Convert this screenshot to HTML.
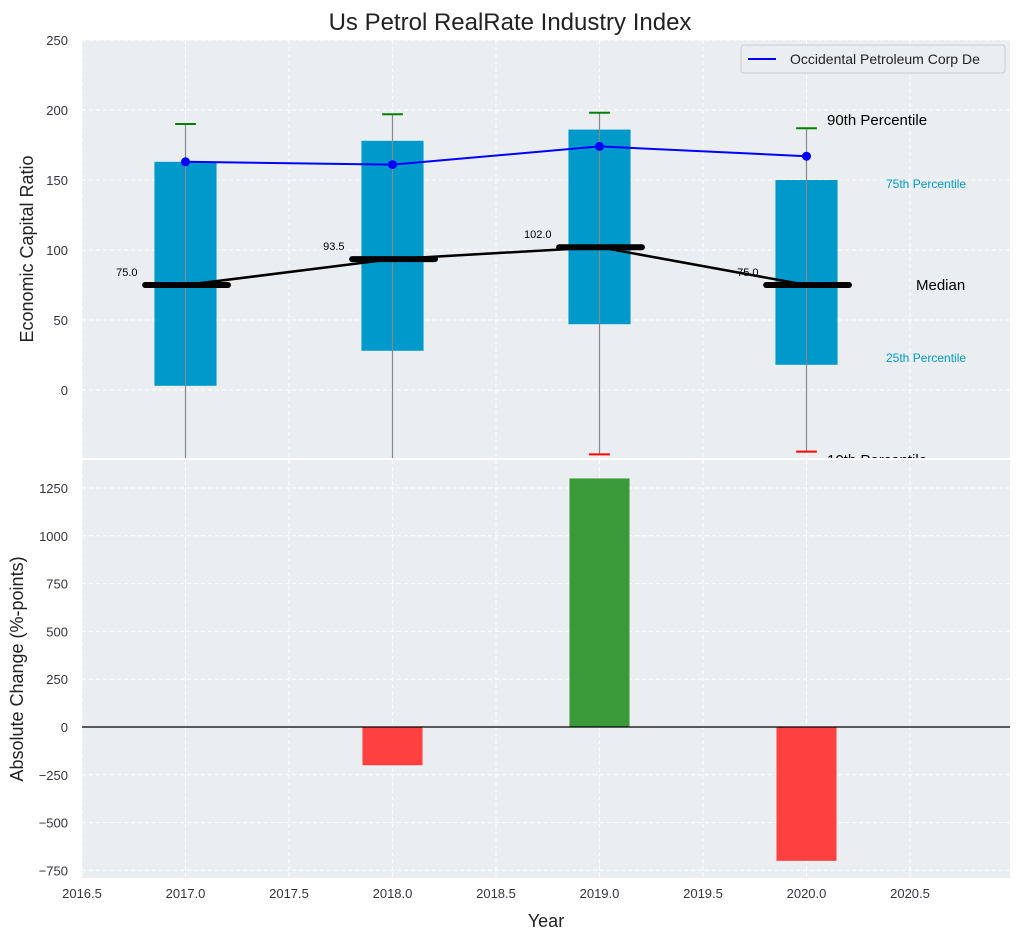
<!DOCTYPE html>
<html><head><meta charset="utf-8"><style>
body{margin:0;background:#fff;font-family:"Liberation Sans",sans-serif;}
svg text{font-family:"Liberation Sans",sans-serif;}
</style></head><body>
<svg id="c" width="1021" height="940" xmlns="http://www.w3.org/2000/svg"></svg>
<script>
const years=[2017,2018,2019,2020];
const p10=[-60,-60,-46,-44];
const p25=[3,28,47,18];
const medians=[75,93.5,102,75];
const p75=[163,178,186,150];
const p90=[190,197,198,187];
const company=[163,161,174,167];
const changes=[null,-200,1300,-700];
const topTicks=[0,50,100,150,200,250];
const botTicks=[-750,-500,-250,0,250,500,750,1000,1250];
const xTicks=[2016.5,2017,2017.5,2018,2018.5,2019,2019.5,2020,2020.5];

const NS="http://www.w3.org/2000/svg";
const svg=document.getElementById('c');
function el(t,a,p){const e=document.createElementNS(NS,t);for(const k in a)e.setAttribute(k,a[k]);(p||svg).appendChild(e);return e;}
const L=82,R=1010;
const X=v=>L+(v-2016.5)*207;
const T0=40,T1=458,B0=460,B1=878;
const YT=v=>390-v*1.4;
const YB=v=>727-v*0.1912;
const fmt=v=>String(v).replace('-','\u2212');

let t=el('text',{x:510,y:30,'text-anchor':'middle','font-size':24,fill:'#222'});t.textContent='Us Petrol RealRate Industry Index';


const bg=el('rect',{x:L,y:B0,width:R-L,height:B1-B0,fill:'#eaeef0'});

const gt=el('g',{});
el('rect',{x:L,y:T0,width:R-L,height:T1-T0,fill:'#eaeef0'},gt);
const clipT=el('clipPath',{id:'ct'});el('rect',{x:L,y:T0,width:R-L,height:T1-T0},clipT);
const clipB=el('clipPath',{id:'cb'});el('rect',{x:L,y:B0,width:R-L,height:B1-B0},clipB);
xTicks.forEach(v=>{el('line',{x1:X(v),x2:X(v),y1:T0,y2:T1,stroke:'#fff','stroke-dasharray':'4,3'},gt);el('line',{x1:X(v),x2:X(v),y1:B0,y2:B1,stroke:'#fff','stroke-dasharray':'4,3'});
 const tx=el('text',{x:X(v),y:898,'text-anchor':'middle','font-size':13,fill:'#334'});tx.textContent=v.toFixed(1);
 });
topTicks.forEach(v=>{el('line',{x1:L,x2:R,y1:YT(v),y2:YT(v),stroke:'#fff','stroke-dasharray':'4,3'},gt);
 const tx=el('text',{x:68,y:YT(v)+5,'text-anchor':'end','font-size':13,fill:'#334'});tx.textContent=fmt(v);
 });
const gc=el('g',{'clip-path':'url(#ct)'});
years.forEach((y,i)=>{
 const b=el('rect',{x:X(y-0.15),y:YT(p75[i]),width:0.3*207,height:YT(p25[i])-YT(p75[i]),fill:'#0099cc'},gc);
 
 el('line',{x1:X(y),x2:X(y),y1:YT(p90[i]),y2:YT(p10[i]),stroke:'#888','stroke-width':1.2},gc);
 el('line',{x1:X(y-0.05),x2:X(y+0.05),y1:YT(p90[i]),y2:YT(p90[i]),stroke:'green','stroke-width':2},gc);
 el('line',{x1:X(y-0.05),x2:X(y+0.05),y1:YT(p10[i]),y2:YT(p10[i]),stroke:'red','stroke-width':2},gc);
});
el('polyline',{points:years.map((y,i)=>X(y)+','+YT(medians[i])).join(' '),fill:'none',stroke:'#000','stroke-width':2.5},gc);
years.forEach((y,i)=>{const m=el('line',{x1:X(y-0.195),x2:X(y+0.205),y1:YT(medians[i]),y2:YT(medians[i]),stroke:'#000','stroke-width':6,'stroke-linecap':'round'},gc);
 
 const tx=el('text',{x:X(y)-48,y:YT(medians[i])-9,'text-anchor':'end','font-size':11,fill:'#000'});tx.textContent=medians[i].toFixed(1);
 });
el('polyline',{points:years.map((y,i)=>X(y)+','+YT(company[i])).join(' '),fill:'none',stroke:'blue','stroke-width':2},gc);
years.forEach((y,i)=>{const c=el('circle',{cx:X(y),cy:YT(company[i]),r:4.5,fill:'blue'},gc);
 });
[['90th Percentile',827,125,15,'#000'],['75th Percentile',886,188,12,'#0099cc'],['Median',916,290,15,'#000'],['25th Percentile',886,362,12,'#0099cc'],['10th Percentile',827,465,15,'#000']].forEach(a=>{
 const tx=el('text',{x:a[1],y:a[2],'font-size':a[3],fill:a[4]},gc);tx.textContent=a[0];
 });
const lg=el('g',{});
el('rect',{x:741,y:45,width:264,height:28,fill:'#eaeef0',stroke:'#ccc',rx:3},lg);
el('line',{x1:748,x2:776,y1:59,y2:59,stroke:'blue','stroke-width':2},lg);
t=el('text',{x:790,y:64,'font-size':14,fill:'#222'},lg);t.textContent='Occidental Petroleum Corp De';
t=el('text',{x:33,y:249,'font-size':18,fill:'#222','text-anchor':'middle',transform:'rotate(-90 33 249)'});t.textContent='Economic Capital Ratio';


botTicks.forEach(v=>{el('line',{x1:L,x2:R,y1:YB(v),y2:YB(v),stroke:'#fff','stroke-dasharray':'4,3'});
 const tx=el('text',{x:68,y:YB(v)+5,'text-anchor':'end','font-size':13,fill:'#334'});tx.textContent=fmt(v);
 });
const gb=el('g',{'clip-path':'url(#cb)'});
years.forEach((y,i)=>{if(changes[i]==null)return;const v=changes[i];
 const b=el('rect',{x:X(y-0.145),y:Math.min(YB(v),YB(0)),width:0.29*207,height:Math.abs(YB(v)-YB(0)),fill:v>=0?'#3a9a3a':'#ff4040'},gb);
 });
el('line',{x1:L,x2:R,y1:YB(0),y2:YB(0),stroke:'#000','stroke-width':1.2});
t=el('text',{x:23,y:669,'font-size':18,fill:'#222','text-anchor':'middle',transform:'rotate(-90 23 669)'});t.textContent='Absolute Change (%-points)';

t=el('text',{x:546,y:927,'font-size':18,fill:'#222','text-anchor':'middle'});t.textContent='Year';

</script>
</body></html>
